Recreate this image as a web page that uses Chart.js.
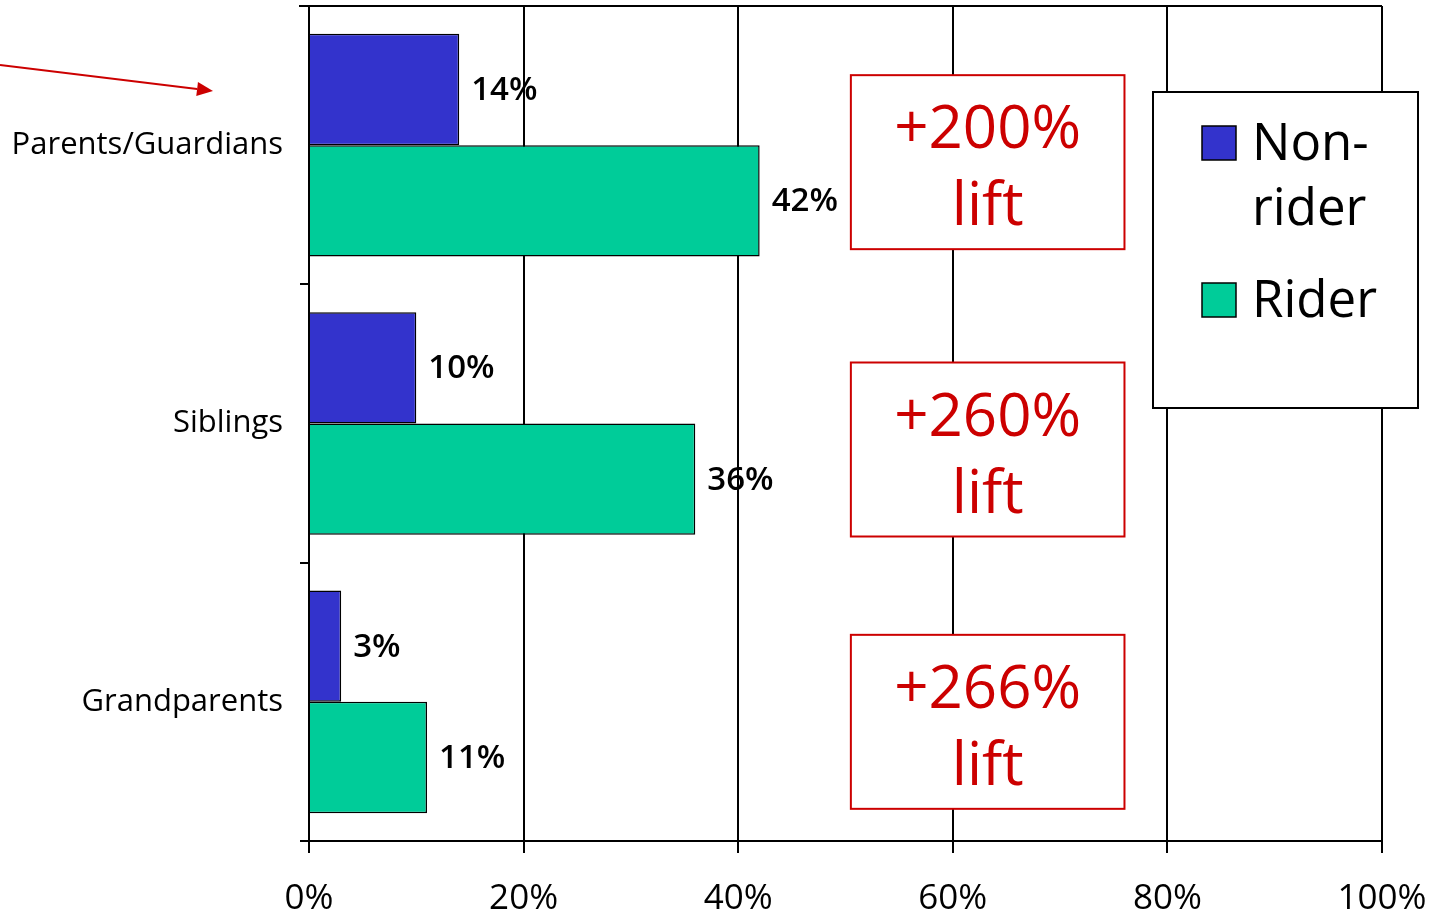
<!DOCTYPE html>
<html>
<head>
<meta charset="utf-8">
<script src="https://cdn.jsdelivr.net/npm/chart.js@4"></script>
<style>
  html, body { margin: 0; padding: 0; background: #ffffff; }
  #wrap { position: relative; width: 1439px; height: 916px; }
</style>
</head>
<body>
<div id="wrap"><canvas id="c" width="1439" height="916"></canvas></div>
<script>
const categories = ["Parents/Guardians", "Siblings", "Grandparents"];
const nonRider = [14, 10, 3];
const rider = [42, 36, 11];
const liftLabels = ["+200%", "+260%", "+266%"];
const xTicks = [0, 20, 40, 60, 80, 100];
const seriesNames = [["Non-", "rider"], ["Rider"]];

const FONT = "'Open Sans', 'DejaVu Sans', sans-serif";
const RED = "#CC0000";

const overlay = {
  id: 'overlay',
  afterDatasetsDraw(chart, args, opts) {
    const ctx = chart.ctx;
    const area = chart.chartArea;
    const xs = chart.scales.x, ys = chart.scales.y;
    ctx.save();
    // top border line
    ctx.strokeStyle = '#000';
    ctx.lineWidth = 2;
    ctx.beginPath();
    ctx.moveTo(area.left - 10, area.top);
    ctx.lineTo(area.right, area.top);
    ctx.stroke();

    // value labels
    ctx.fillStyle = '#000';
    ctx.font = "600 33px " + FONT;
    ctx.textAlign = 'left';
    ctx.textBaseline = 'middle';
    chart.data.datasets.forEach((ds, di) => {
      const meta = chart.getDatasetMeta(di);
      meta.data.forEach((bar, i) => {
        ctx.fillText(ds.data[i] + '%', bar.x + 12, bar.y + 1);
      });
    });

    // lift boxes
    const bx0 = xs.getPixelForValue(50.5), bx1 = xs.getPixelForValue(76);
    liftLabels.forEach((lab, i) => {
      const cy = ys.getPixelForValue(i) + opts.boxShift[i];
      const h = 174;
      const top = cy - h / 2;
      ctx.fillStyle = '#fff';
      ctx.fillRect(bx0, top, bx1 - bx0, h);
      ctx.strokeStyle = RED;
      ctx.lineWidth = 2;
      ctx.strokeRect(bx0, top, bx1 - bx0, h);
      ctx.fillStyle = RED;
      ctx.font = "500 60px " + FONT;
      ctx.textAlign = 'center';
      ctx.textBaseline = 'alphabetic';
      const mx = (bx0 + bx1) / 2;
      ctx.fillText(lab, mx, top + 73);
      ctx.fillText('lift', mx, top + 150);
    });

    // legend
    const lx = 1153, ly = 92, lw = 265, lh = 316;
    ctx.fillStyle = '#fff';
    ctx.fillRect(lx, ly, lw, lh);
    ctx.strokeStyle = '#000';
    ctx.lineWidth = 2;
    ctx.strokeRect(lx, ly, lw, lh);
    ctx.font = "51px " + FONT;
    ctx.textAlign = 'left';
    ctx.textBaseline = 'middle';
    const rows = [[143, 208], [300]];
    chart.data.datasets.forEach((ds, di) => {
      const ys0 = rows[di];
      ctx.fillStyle = ds.backgroundColor;
      ctx.fillRect(lx + 49, ys0[0] - 17, 34, 34);
      ctx.strokeStyle = '#000';
      ctx.lineWidth = 1.5;
      ctx.strokeRect(lx + 49, ys0[0] - 17, 34, 34);
      ctx.fillStyle = '#000';
      seriesNames[di].forEach((t, k) => ctx.fillText(t, lx + 99, ys0[k] + 2));
    });

    // arrow
    ctx.strokeStyle = RED;
    ctx.fillStyle = RED;
    ctx.lineWidth = 2;
    const x0 = 0, y0 = 65, x1 = 213, y1 = 91;
    const ang = Math.atan2(y1 - y0, x1 - x0);
    ctx.beginPath();
    ctx.moveTo(x0, y0);
    ctx.lineTo(x1 - 16 * Math.cos(ang), y1 - 16 * Math.sin(ang));
    ctx.stroke();
    ctx.beginPath();
    ctx.moveTo(x1, y1);
    ctx.lineTo(x1 - 16 * Math.cos(ang) + 7 * Math.sin(ang), y1 - 16 * Math.sin(ang) - 7 * Math.cos(ang));
    ctx.lineTo(x1 - 16 * Math.cos(ang) - 7 * Math.sin(ang), y1 - 16 * Math.sin(ang) + 7 * Math.cos(ang));
    ctx.closePath();
    ctx.fill();
    ctx.restore();
  }
};

new Chart(document.getElementById('c'), {
  type: 'bar',
  data: {
    labels: categories,
    datasets: [
      { label: 'Non-rider', data: nonRider, backgroundColor: '#3333CC', borderColor: '#000', borderWidth: 1.5 },
      { label: 'Rider', data: rider, backgroundColor: '#00CC99', borderColor: '#000', borderWidth: 1.5 }
    ]
  },
  options: {
    indexAxis: 'y',
    responsive: false,
    animation: false,
    categoryPercentage: 0.8,
    barPercentage: 1.0,
    layout: { padding: { top: 6, right: 57, left: 0, bottom: 0 } },
    plugins: {
      legend: { display: false },
      tooltip: { enabled: false },
      overlay: { boxShift: [17, 26, 20] }
    },
    scales: {
      x: {
        min: 0, max: 100,
        afterBuildTicks(s) { s.ticks = xTicks.map(v => ({ value: v })); },
        afterFit(s) { s.height = 75; s.paddingLeft = 0; s.paddingRight = 0; s.paddingTop = 0; s.paddingBottom = 0; },
        grid: { color: '#000', lineWidth: 2, tickLength: 12, drawTicks: true },
        border: { display: true, color: '#000', width: 2 },
        ticks: {
          callback: v => v + '%',
          color: '#000',
          font: { family: FONT, size: 35, weight: '500' },
          padding: 25,
          maxRotation: 0
        }
      },
      y: {
        afterFit(s) { s.width = 309; s.paddingLeft = 0; s.paddingRight = 0; s.paddingTop = 0; s.paddingBottom = 0; },
        grid: { display: true, drawOnChartArea: false, drawTicks: true, tickLength: 9, color: '#000', lineWidth: 2, offset: true },
        border: { display: true, color: '#000', width: 2 },
        ticks: {
          color: '#000',
          font: { family: FONT, size: 31, weight: '500' },
          padding: 17
        }
      }
    }
  },
  plugins: [overlay]
});
</script>
</body>
</html>
